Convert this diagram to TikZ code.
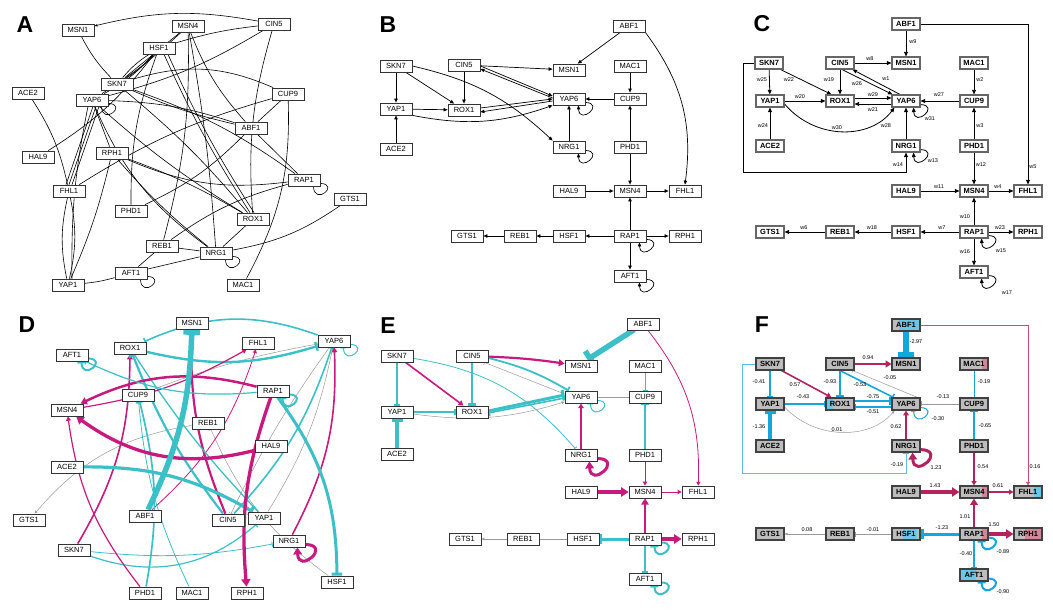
\documentclass[tikz,border=0pt]{standalone}
\usepackage{fontspec}
\setmainfont{Liberation Sans}
\usetikzlibrary{arrows.meta,calc}
\definecolor{magE}{HTML}{C8197F}
\definecolor{cyE}{HTML}{3CC0C8}
\definecolor{magF}{HTML}{B4225F}
\definecolor{blF}{HTML}{14A7DD}
\definecolor{fgray}{HTML}{BDBDBD}
\definecolor{fpink}{HTML}{CF8799}
\definecolor{fblue}{HTML}{6BC6E8}
\definecolor{gedge}{HTML}{9A9A9A}
\pgfdeclarelayer{bg}
\pgfsetlayers{bg,main}
\newcommand{\mkloop}[2]{\draw[#1] ($(#2.south east)+(0,-3)$) .. controls +(20,1) and +(1,20) .. ($(#2.south east)+(-7,0)$);}
\newcommand{\mkbigloop}[2]{\draw[#1] ($(#2.south east)+(0,-3)$) .. controls +(27,1) and +(1,27) .. ($(#2.south east)+(-8,0)$);}
\begin{document}
\begin{tikzpicture}[x=1pt,y=-1pt,
  font=\fontsize{7.5}{8}\selectfont,
  nb/.style={draw=black!80, line width=0.8pt, fill=white, minimum width=32pt, minimum height=12pt, inner sep=0pt},
  nc/.style={draw=black!60, line width=1.1pt, fill=white, minimum width=28pt, minimum height=12pt, inner sep=0pt, font=\bfseries\fontsize{7.5}{8}\selectfont},
  nf/.style={nc, fill=fgray, draw=black!75},
  pf/.style n args={3}{path picture={\fill[#1] ($(path picture bounding box.north west)!#2!(path picture bounding box.north east)$) rectangle ($(path picture bounding box.south west)!#3!(path picture bounding box.south east)$);}},
  lab/.style={font=\fontsize{5.5}{6}\selectfont, inner sep=0.5pt},
  plet/.style={font=\bfseries\fontsize{23}{23}\selectfont, inner sep=0pt},
  lnA/.style={line width=0.6pt, draw=black},
  arB/.style={line width=0.7pt, draw=black, -{Triangle[length=4pt,width=3.4pt]}},
  arC/.style={line width=0.8pt, draw=black, -{Triangle[length=4.5pt,width=3.8pt]}},
  aE/.style={draw=magE, line width=#1, -{Triangle[length=2.5pt 1.5, width=2.5pt 2]}},
  iE/.style={draw=cyE, line width=#1, -{Bar[width=3pt 2.5]}},
  aF/.style={draw=magF, line width=#1, -{Triangle[length=2.5pt 1.5, width=2.5pt 2]}},
  iF/.style={draw=blF, line width=#1, -{Bar[width=3pt 2.5]}},
  gA/.style={draw=gedge, line width=0.5pt, -{Triangle[length=3pt,width=2.6pt]}},
  gI/.style={draw=gedge, line width=0.5pt, -{Bar[width=5pt]}}
]
\useasboundingbox (0,0) rectangle (1053,612);

% ---------------- panel letters
\node[plet] (LA) at (25,25) {A};
\node[plet] (LB) at (388,25) {B};
\node[plet] (LC) at (762,24) {C};
\node[plet] (LD) at (27,325) {D};
\node[plet] (LE) at (388,326) {E};
\node[plet] (LF) at (762,325) {F};

% ---------------- panel A nodes
\node[nb] (aMSN1) at (78,30) {MSN1};
\node[nb] (aMSN4) at (188,26) {MSN4};
\node[nb] (aCIN5) at (274,24) {CIN5};
\node[nb] (aHSF1) at (159,48) {HSF1};
\node[nb] (aSKN7) at (117,84) {SKN7};
\node[nb] (aACE2) at (28,93) {ACE2};
\node[nb] (aYAP6) at (92,100) {YAP6};
\node[nb] (aCUP9) at (288,94) {CUP9};
\node[nb] (aABF1) at (251,128) {ABF1};
\node[nb] (aHAL9) at (38,157) {HAL9};
\node[nb] (aRPH1) at (112,153) {RPH1};
\node[nb] (aRAP1) at (304,180) {RAP1};
\node[nb] (aFHL1) at (69,191) {FHL1};
\node[nb] (aGTS1) at (350,199) {GTS1};
\node[nb] (aPHD1) at (131,211) {PHD1};
\node[nb] (aROX1) at (253,219) {ROX1};
\node[nb] (aREB1) at (162,246) {REB1};
\node[nb] (aNRG1) at (216,253) {NRG1};
\node[nb] (aAFT1) at (131,273) {AFT1};
\node[nb] (aYAP1) at (68,285) {YAP1};
\node[nb] (aMAC1) at (243,285) {MAC1};

\begin{pgfonlayer}{bg}
\draw[lnA,-{Stealth[length=3.5pt]}] (aCIN5) to[bend right=12] (aMSN1);
\draw[lnA] (aMSN1) to[bend right=8] (aSKN7);
\draw[lnA] (aMSN4) -- (aSKN7);
\draw[lnA] (aMSN4) to[bend left=5] (aYAP6);
\draw[lnA] (aHSF1) to[bend left=8] (aSKN7);
\draw[lnA] (aHSF1) to[bend right=8] (aSKN7);
\draw[lnA] (aHSF1) to[bend left=5] (aCIN5);
\draw[lnA] (aCIN5) to[bend left=8] (aYAP6);
\draw[lnA] (aHSF1) to[bend left=10] (aYAP6);
\draw[lnA] (aMSN4) to[bend left=8] (aREB1);
\draw[lnA] (aMSN4) to[bend right=10] (aABF1);
\draw[lnA] (aMSN4) to[bend left=3] (aNRG1);
\draw[lnA] ($(aHSF1.south)+(5,0)$) to[bend right=4] ($(aROX1.north)+(-3,0)$);
\draw[lnA] ($(aHSF1.south)+(9,0)$) to[bend right=4] ($(aROX1.north)+(1,0)$);
\draw[lnA] (aCIN5) to[bend right=10] (aROX1);
\draw[lnA] (aSKN7) to[bend left=20] (aCUP9);
\draw[lnA] (aSKN7) to[bend right=5] (aABF1);
\draw[lnA] (aSKN7) to[bend left=5] (aROX1);
\draw[lnA] (aSKN7) to[bend left=8] (aRAP1);
\draw[lnA] ($(aYAP6.south)+(1,0)$) -- ($(aFHL1.north)+(-3,0)$);
\draw[lnA] ($(aYAP6.south)+(4,0)$) -- ($(aFHL1.north)+(0,0)$);
\draw[lnA] ($(aYAP6.south)+(7,0)$) -- ($(aFHL1.north)+(3,0)$);
\draw[lnA] ($(aYAP6.south)+(-4,0)$) to[bend right=6] ($(aYAP1.north)+(4,0)$);
\draw[lnA] (aYAP6) -- (aRPH1);
\draw[lnA] (aYAP6) to[bend right=15] (aNRG1);
\draw[lnA] (aYAP6) to[bend right=5] (aROX1);
\draw[lnA] (aYAP6) to[bend left=8] (aABF1);
\draw[lnA] (aACE2) to[bend left=10] (aFHL1);
\draw[lnA] (aHAL9) to[bend right=10] (aHSF1);
\draw[lnA] (aFHL1) to[bend left=12] (aYAP1);
\draw[lnA] (aFHL1) to[bend right=12] (aYAP1);
\draw[lnA] (aFHL1) to[bend left=8] (aCUP9);
\draw[lnA] (aRPH1) to[bend left=5] (aYAP1);
\draw[lnA] (aRPH1) to[bend left=5] (aROX1);
\draw[lnA] (aRPH1) to[bend right=15] (aRAP1);
\draw[lnA] (aRPH1) to[bend right=5] (aNRG1);
\draw[lnA] (aPHD1) to[bend left=10] (aHSF1);
\draw[lnA] (aPHD1) to[bend right=10] (aABF1);
\draw[lnA] (aABF1) -- (aRAP1);
\draw[lnA] (aABF1) -- (aCUP9);
\draw[lnA] (aRAP1) to[bend right=10] (aREB1);
\draw[lnA] (aCUP9) to[bend left=15] (aMAC1);
\draw[lnA] (aGTS1) to[bend left=12] (aNRG1);
\draw[lnA] (aROX1) -- (aNRG1);
\draw[lnA] (aREB1) -- (aNRG1);
\draw[lnA] (aREB1) -- (aAFT1);
\draw[lnA] (aNRG1) -- (aAFT1);
\draw[lnA] (aYAP1) to[bend right=5] (aAFT1);
\mkloop{lnA}{aYAP6}
\mkloop{lnA}{aRAP1}
\mkloop{lnA}{aNRG1}
\mkloop{lnA}{aAFT1}
\end{pgfonlayer}

% ---------------- panel B nodes
\node[nb] (bABF1) at (629,26) {ABF1};
\node[nb] (bSKN7) at (396,66) {SKN7};
\node[nb] (bCIN5) at (464,65) {CIN5};
\node[nb] (bMSN1) at (569,70) {MSN1};
\node[nb] (bMAC1) at (630,66) {MAC1};
\node[nb] (bYAP1) at (396,109) {YAP1};
\node[nb] (bROX1) at (464,110) {ROX1};
\node[nb] (bYAP6) at (569,99) {YAP6};
\node[nb] (bCUP9) at (630,99) {CUP9};
\node[nb] (bACE2) at (396,149) {ACE2};
\node[nb] (bNRG1) at (569,147) {NRG1};
\node[nb] (bPHD1) at (630,147) {PHD1};
\node[nb] (bHAL9) at (569,191) {HAL9};
\node[nb] (bMSN4) at (630,191) {MSN4};
\node[nb] (bFHL1) at (685,191) {FHL1};
\node[nb] (bGTS1) at (467,236) {GTS1};
\node[nb] (bREB1) at (520,236) {REB1};
\node[nb] (bHSF1) at (569,236) {HSF1};
\node[nb] (bRAP1) at (630,236) {RAP1};
\node[nb] (bRPH1) at (685,236) {RPH1};
\node[nb] (bAFT1) at (630,276) {AFT1};

\begin{pgfonlayer}{bg}
\draw[arB] (bABF1) -- (bMSN1);
\draw[arB] (bABF1.south east) to[bend left=22] (bFHL1.north);
\draw[arB] (bSKN7) -- (bYAP1);
\draw[arB] (bSKN7) -- (bROX1);
\draw[arB] (bSKN7.east) to[bend left=15] (bNRG1.north west);
\draw[arB] (bCIN5) -- (bMSN1);
\draw[arB] (bCIN5) -- (bROX1);
\draw[arB] ($(bCIN5.east)+(0,1)$) -- ($(bYAP6.west)+(0,-3)$);
\draw[arB] ($(bYAP6.west)+(0,-1)$) -- ($(bCIN5.east)+(0,4)$);
\draw[arB] (bYAP1) -- (bROX1);
\draw[arB] ($(bROX1.east)+(0,-2)$) -- ($(bYAP6.west)+(0,0)$);
\draw[arB] ($(bYAP6.west)+(0,2)$) -- ($(bROX1.east)+(0,2)$);
\draw[arB] (bYAP1.south east) to[bend right=15] (bYAP6.south west);
\draw[arB] (bACE2) -- (bYAP1);
\draw[arB] (bMAC1) -- (bCUP9);
\draw[arB] (bCUP9) -- (bYAP6);
\draw[arB] (bPHD1) -- (bCUP9);
\draw[arB] (bPHD1) -- (bMSN4);
\draw[arB] (bNRG1) -- (bYAP6);
\draw[arB] (bHAL9) -- (bMSN4);
\draw[arB] (bMSN4) -- (bFHL1);
\draw[arB] (bRAP1) -- (bMSN4);
\draw[arB] (bRAP1) -- (bHSF1);
\draw[arB] (bHSF1) -- (bREB1);
\draw[arB] (bREB1) -- (bGTS1);
\draw[arB] (bRAP1) -- (bRPH1);
\draw[arB] (bRAP1) -- (bAFT1);
\mkloop{arB}{bYAP6}
\mkloop{arB}{bNRG1}
\mkloop{arB}{bRAP1}
\mkloop{arB}{bAFT1}
\end{pgfonlayer}

% ---------------- panel C nodes
\node[nc] (cABF1) at (906,24) {ABF1};
\node[nc] (cSKN7) at (769,63) {SKN7};
\node[nc] (cCIN5) at (840,63) {CIN5};
\node[nc] (cMSN1) at (906,63) {MSN1};
\node[nc] (cMAC1) at (974,63) {MAC1};
\node[nc] (cYAP1) at (770,101) {YAP1};
\node[nc] (cROX1) at (840,101) {ROX1};
\node[nc] (cYAP6) at (906,101) {YAP6};
\node[nc] (cCUP9) at (974,101) {CUP9};
\node[nc] (cACE2) at (770,146) {ACE2};
\node[nc] (cNRG1) at (906,146) {NRG1};
\node[nc] (cPHD1) at (974,146) {PHD1};
\node[nc] (cHAL9) at (906,191) {HAL9};
\node[nc] (cMSN4) at (974,191) {MSN4};
\node[nc] (cFHL1) at (1028,191) {FHL1};
\node[nc] (cGTS1) at (770,232) {GTS1};
\node[nc] (cREB1) at (840,232) {REB1};
\node[nc] (cHSF1) at (906,232) {HSF1};
\node[nc] (cRAP1) at (974,232) {RAP1};
\node[nc] (cRPH1) at (1028,232) {RPH1};
\node[nc] (cAFT1) at (974,272) {AFT1};

\begin{pgfonlayer}{bg}
\draw[arC] (cABF1) -- (cMSN1);
\draw[arC] (cABF1.east) -| (cFHL1.north);
\draw[arC] (cSKN7) -- (cYAP1);
\draw[arC] ($(cSKN7.south east)+(-3,0)$) -- ($(cROX1.north west)+(6,0)$);
\draw[arC] (cSKN7.west) -- ++(-11,0) |- ($(cNRG1.south)+(0,20)$) -- (cNRG1.south);
\draw[arC] (cCIN5) -- (cMSN1);
\draw[arC] (cCIN5) -- (cROX1);
\draw[arC] ($(cCIN5.south)+(2,0)$) -- ($(cYAP6.north west)+(1,0)$);
\draw[arC] ($(cYAP6.north)+(-6,0)$) -- ($(cCIN5.south east)+(-2,0)$);
\draw[arC] (cYAP1) -- (cROX1);
\draw[arC] ($(cROX1.east)+(0,-3)$) -- ($(cYAP6.west)+(0,-3)$);
\draw[arC] ($(cYAP6.west)+(0,3)$) -- ($(cROX1.east)+(0,3)$);
\draw[arC] ($(cYAP1.east)+(0,3)$) .. controls (815,140) and (870,140) .. ($(cYAP6.south west)+(3,0)$);
\draw[arC] (cACE2) -- (cYAP1);
\draw[arC] (cMAC1) -- (cCUP9);
\draw[arC] (cCUP9) -- (cYAP6);
\draw[arC] (cPHD1) -- (cCUP9);
\draw[arC] (cNRG1) -- (cYAP6);
\draw[arC] (cPHD1) -- (cMSN4);
\draw[arC] (cHAL9) -- (cMSN4);
\draw[arC] (cMSN4) -- (cFHL1);
\draw[arC] (cRAP1) -- (cMSN4);
\draw[arC] (cRAP1) -- (cHSF1);
\draw[arC] (cHSF1) -- (cREB1);
\draw[arC] (cREB1) -- (cGTS1);
\draw[arC] (cRAP1) -- (cRPH1);
\draw[arC] (cRAP1) -- (cAFT1);
\mkloop{arC}{cYAP6}
\mkloop{arC}{cNRG1}
\mkloop{arC}{cRAP1}
\mkloop{arC}{cAFT1}
\end{pgfonlayer}
\node[lab] (cw9) at (913,42) {w9};
\node[lab] (cw5) at (1033,167) {w5};
\node[lab] (cw25) at (762,80) {w25};
\node[lab] (cw22) at (789,80) {w22};
\node[lab] (cw14) at (898,165) {w14};
\node[lab] (cw8) at (870,59) {w8};
\node[lab] (cw19) at (829,80) {w19};
\node[lab] (cw26) at (857,84) {w26};
\node[lab] (cw1) at (886,79) {w1};
\node[lab] (cw20) at (800,97) {w20};
\node[lab] (cw29) at (873,95) {w29};
\node[lab] (cw21) at (873,110) {w21};
\node[lab] (cw30) at (837,128) {w30};
\node[lab] (cw24) at (763,126) {w24};
\node[lab] (cw2) at (980,80) {w2};
\node[lab] (cw27) at (939,95) {w27};
\node[lab] (cw3) at (980,126) {w3};
\node[lab] (cw28) at (886,126) {w28};
\node[lab] (cw31) at (930,119) {w31};
\node[lab] (cw13) at (933,161) {w13};
\node[lab] (cw12) at (981,165) {w12};
\node[lab] (cw11) at (939,187) {w11};
\node[lab] (cw4) at (998,187) {w4};
\node[lab] (cw10) at (965,217) {w10};
\node[lab] (cw7) at (942,228) {w7};
\node[lab] (cw18) at (872,228) {w18};
\node[lab] (cw6) at (804,228) {w6};
\node[lab] (cw23) at (1000,228) {w23};
\node[lab] (cw15) at (1001,251) {w15};
\node[lab] (cw16) at (965,252) {w16};
\node[lab] (cw17) at (1007,293) {w17};

% ---------------- panel D nodes
\node[nb] (dMSN1) at (192,323) {MSN1};
\node[nb] (dYAP6) at (334,341) {YAP6};
\node[nb] (dFHL1) at (258,343) {FHL1};
\node[nb] (dROX1) at (130,348) {ROX1};
\node[nb] (dAFT1) at (72,355) {AFT1};
\node[nb] (dCUP9) at (138,395) {CUP9};
\node[nb] (dRAP1) at (273,391) {RAP1};
\node[nb] (dMSN4) at (67,410) {MSN4};
\node[nb] (dREB1) at (208,423) {REB1};
\node[nb] (dHAL9) at (271,446) {HAL9};
\node[nb] (dACE2) at (67,467) {ACE2};
\node[nb] (dGTS1) at (29,520) {GTS1};
\node[nb] (dABF1) at (145,516) {ABF1};
\node[nb] (dCIN5) at (228,520) {CIN5};
\node[nb] (dYAP1) at (264,518) {YAP1};
\node[nb] (dNRG1) at (289,541) {NRG1};
\node[nb] (dSKN7) at (74,550) {SKN7};
\node[nb] (dHSF1) at (337,582) {HSF1};
\node[nb] (dPHD1) at (145,593) {PHD1};
\node[nb] (dMAC1) at (192,593) {MAC1};
\node[nb] (dRPH1) at (247,593) {RPH1};

\begin{pgfonlayer}{bg}
\draw[gI] (dYAP6) to[bend right=5] (dCIN5);
\draw[gA] (dYAP1) to[bend right=10] (dYAP6);
\draw[gI] (dCUP9) to[bend left=5] (dYAP6);
\draw[gI] (dHSF1) to[bend left=15] (dREB1);
\draw[gA] (dREB1) to[bend right=20] (dGTS1);
\draw[iE=0.8] (dSKN7) to[bend right=8] (dNRG1);
\draw[iE=1.2] (dSKN7) to[bend right=30] (dYAP1);
\draw[aE=0.8] (dABF1) to[bend right=15] (dFHL1);
\draw[aE=1.6] (dSKN7) to[bend right=15] (dROX1);
\draw[aE=2.2] (dCIN5) to[bend left=12] (dMSN1);
\draw[iE=2.2] (dCIN5) to[bend left=8] (dROX1);
\draw[iE=1.6] (dCIN5) to[bend right=12] (dYAP6);
\draw[iE=1.3] (dYAP1) to[bend left=5] (dROX1);
\draw[iE=2.4] (dROX1) to[bend right=15] (dYAP6);
\draw[iE=1.6] (dYAP6) to[bend right=22] (dROX1);
\draw[iE=3.2] (dACE2) to[bend left=15] (dYAP1);
\draw[iE=0.8] (dMAC1) to[bend left=10] (dCUP9);
\draw[iE=1.7] (dPHD1) to[bend right=12] (dCUP9);
\draw[aE=1.2] (dPHD1) to[bend left=15] (dMSN4);
\draw[aE=1.6] (dNRG1) to[bend right=15] (dYAP6);
\draw[aE=3.3] (dHAL9) to[bend left=25] (dMSN4);
\draw[aE=1.2] (dMSN4) to[bend right=10] (dFHL1);
\draw[aE=2.5] (dRAP1) to[bend right=20] (dMSN4);
\draw[iE=3.0] (dRAP1) to[bend left=18] (dHSF1);
\draw[aE=3.3] (dRAP1) to[bend right=12] (dRPH1);
\draw[iE=1.2] (dRAP1) to[bend left=15] (dAFT1);
\draw[iE=5.5] (dABF1) to[bend right=12] (dMSN1);
\mkbigloop{aE=3.0}{dNRG1}
\mkloop{iE=1.0}{dYAP6}
\mkloop{iE=2.0}{dRAP1}
\mkloop{iE=2.0}{dAFT1}
\end{pgfonlayer}

% ---------------- panel E nodes
\node[nb] (eABF1) at (643,324) {ABF1};
\node[nb] (eSKN7) at (397,356) {SKN7};
\node[nb] (eCIN5) at (472,356) {CIN5};
\node[nb] (eMSN1) at (581,366) {MSN1};
\node[nb] (eMAC1) at (645,366) {MAC1};
\node[nb] (eYAP6) at (581,397) {YAP6};
\node[nb] (eCUP9) at (645,397) {CUP9};
\node[nb] (eYAP1) at (397,412) {YAP1};
\node[nb] (eROX1) at (472,412) {ROX1};
\node[nb] (eACE2) at (397,454) {ACE2};
\node[nb] (eNRG1) at (581,455) {NRG1};
\node[nb] (ePHD1) at (645,455) {PHD1};
\node[nb] (eHAL9) at (581,492) {HAL9};
\node[nb] (eMSN4) at (645,492) {MSN4};
\node[nb] (eFHL1) at (698,492) {FHL1};
\node[nb] (eGTS1) at (465,539) {GTS1};
\node[nb] (eREB1) at (523,539) {REB1};
\node[nb] (eHSF1) at (583,539) {HSF1};
\node[nb] (eRAP1) at (645,539) {RAP1};
\node[nb] (eRPH1) at (698,539) {RPH1};
\node[nb] (eAFT1) at (645,579) {AFT1};

\begin{pgfonlayer}{bg}
\draw[gI] ($(eYAP6.west)+(0,-3)$) -- ($(eCIN5.south east)+(-4,0)$);
\draw[gA] (eYAP1) to[bend right=12] (eYAP6);
\draw[gI] (eCUP9) -- (eYAP6);
\draw[gI] (eHSF1) -- (eREB1);
\draw[gA] (eREB1) -- (eGTS1);
\draw[iE=5.5, line cap=round] (eABF1) -- ($(eMSN1.north east)+(-10,0)$);
\draw[aE=0.8] (eABF1) to[bend left=20] (eFHL1);
\draw[iE=1.2] (eSKN7) -- (eYAP1);
\draw[aE=1.6] (eSKN7) -- (eROX1);
\draw[iE=0.8] (eSKN7) to[bend left=20] (eNRG1);
\draw[aE=2.2] (eCIN5) to[bend left=3] (eMSN1);
\draw[iE=2.2] (eCIN5) -- (eROX1);
\draw[iE=1.8] ($(eCIN5.east)+(0,2)$) to[bend left=8] ($(eYAP6.north west)+(4,0)$);
\draw[iE=1.3] (eYAP1) -- (eROX1);
\draw[iE=3.0] ($(eROX1.east)+(0,-1)$) -- ($(eYAP6.west)+(0,-2)$);
\draw[iE=1.6] ($(eYAP6.west)+(0,1)$) -- ($(eROX1.east)+(0,1)$);
\draw[iE=3.2] (eACE2) -- (eYAP1);
\draw[iE=0.8] (eMAC1) -- (eCUP9);
\draw[iE=1.7] (ePHD1) -- (eCUP9);
\draw[aE=1.5] (eNRG1) -- (eYAP6);
\draw[aE=1.0] (ePHD1) -- (eMSN4);
\draw[aE=3.3] (eHAL9) -- (eMSN4);
\draw[aE=1.0] (eMSN4) -- (eFHL1);
\draw[aE=2.5] (eRAP1) -- (eMSN4);
\draw[iE=3.0] (eRAP1) -- (eHSF1);
\draw[aE=3.3] (eRAP1) -- (eRPH1);
\draw[iE=1.2] (eRAP1) -- (eAFT1);
\mkloop{iE=1.0}{eYAP6}
\mkbigloop{aE=3.0}{eNRG1}
\mkloop{iE=2.0}{eRAP1}
\mkloop{iE=2.0}{eAFT1}
\end{pgfonlayer}

% ---------------- panel F nodes
\node[nf, pf={fblue}{0.25}{0.95}] (fABF1) at (906,325) {ABF1};
\node[nf] (fSKN7) at (770,364) {SKN7};
\node[nf] (fCIN5) at (840,364) {CIN5};
\node[nf] (fMSN1) at (906,364) {MSN1};
\node[nf, pf={fpink}{0.78}{1}] (fMAC1) at (974,364) {MAC1};
\node[nf] (fYAP1) at (770,404) {YAP1};
\node[nf, pf={fblue}{0}{0.25}] (fROX1) at (840,404) {ROX1};
\node[nf] (fYAP6) at (906,404) {YAP6};
\node[nf] (fCUP9) at (974,404) {CUP9};
\node[nf] (fACE2) at (770,446) {ACE2};
\node[nf] (fNRG1) at (906,446) {NRG1};
\node[nf] (fPHD1) at (974,446) {PHD1};
\node[nf] (fHAL9) at (906,492) {HAL9};
\node[nf, pf={fpink}{0.78}{1}] (fMSN4) at (974,492) {MSN4};
\node[nf, pf={fblue}{0.72}{1}] (fFHL1) at (1028,492) {FHL1};
\node[nf] (fGTS1) at (770,534) {GTS1};
\node[nf] (fREB1) at (840,534) {REB1};
\node[nf, pf={fblue}{0.4}{0.88}] (fHSF1) at (906,534) {HSF1};
\node[nf, pf={fpink}{0.8}{1}] (fRAP1) at (974,534) {RAP1};
\node[nf, pf={fpink}{0.4}{1}] (fRPH1) at (1028,534) {RPH1};
\node[nf, pf={fblue}{0}{0.58}] (fAFT1) at (974,575) {AFT1};

\begin{pgfonlayer}{bg}
\draw[gI] ($(fYAP6.north east)+(-3,0)$) -- ($(fCIN5.south east)+(-2,0)$);
\draw[gA] ($(fYAP1.east)+(0,3)$) .. controls (815,440) and (870,440) .. ($(fYAP6.south west)+(3,0)$);
\draw[gI] (fCUP9) -- (fYAP6);
\draw[gI] (fHSF1) -- (fREB1);
\draw[gA] (fREB1) -- (fGTS1);
\draw[iF=5.5, line cap=round] (fABF1) -- (fMSN1);
\draw[aF=0.8, draw=magF!80] (fABF1.east) -| (fFHL1.north);
\draw[iF=1.2] (fSKN7) -- (fYAP1);
\draw[aF=1.6] ($(fSKN7.south east)+(-3,0)$) -- ($(fROX1.north west)+(6,0)$);
\draw[iF=0.9, draw=blF!70] (fSKN7.west) -- ++(-13,0) |- ($(fNRG1.south)+(0,21)$) -- (fNRG1.south);
\draw[aF=2.2] (fCIN5) -- (fMSN1);
\draw[iF=2.2] (fCIN5) -- (fROX1);
\draw[iF=1.6] (fCIN5.south) -- ($(fYAP6.north west)+(2,0)$);
\draw[iF=1.3] (fYAP1) -- (fROX1);
\draw[iF=2.0] ($(fROX1.east)+(0,-3)$) -- ($(fYAP6.west)+(0,-3)$);
\draw[iF=1.5] ($(fYAP6.west)+(0,3)$) -- ($(fROX1.east)+(0,3)$);
\draw[iF=3.2] (fACE2) -- (fYAP1);
\draw[iF=0.8] (fMAC1) -- (fCUP9);
\draw[iF=1.7] (fPHD1) -- (fCUP9);
\draw[aF=1.6] (fNRG1) -- (fYAP6);
\draw[aF=1.3] (fPHD1) -- (fMSN4);
\draw[aF=3.3] (fHAL9) -- (fMSN4);
\draw[aF=1.2] (fMSN4) -- (fFHL1);
\draw[aF=2.5] (fRAP1) -- (fMSN4);
\draw[iF=3.0] (fRAP1) -- (fHSF1);
\draw[aF=3.3] (fRAP1) -- (fRPH1);
\draw[iF=1.2] (fRAP1) -- (fAFT1);
\mkloop{iF=1.0}{fYAP6}
\mkbigloop{aF=3.0}{fNRG1}
\mkloop{iF=2.0}{fRAP1}
\mkloop{iF=2.0}{fAFT1}
\end{pgfonlayer}
\node[lab] (fl1) at (916,342) {-2.97};
\node[lab] (fl2) at (868,358) {0.94};
\node[lab] (fl3) at (890,378) {-0.05};
\node[lab] (fl4) at (759,382) {-0.41};
\node[lab] (fl5) at (795,385) {0.57};
\node[lab] (fl6) at (830,382) {-0.93};
\node[lab] (fl7) at (860,385) {-0.53};
\node[lab] (fl8) at (984,382) {-0.19};
\node[lab] (fl9) at (803,397) {-0.43};
\node[lab] (fl10) at (873,397) {-0.75};
\node[lab] (fl11) at (943,397) {-0.13};
\node[lab] (fl12) at (873,412) {-0.51};
\node[lab] (fl13) at (938,419) {-0.30};
\node[lab] (fl14) at (759,427) {-1.36};
\node[lab] (fl15) at (837,430) {0.01};
\node[lab] (fl16) at (896,427) {0.62};
\node[lab] (fl17) at (985,426) {-0.65};
\node[lab] (fl18) at (897,465) {-0.19};
\node[lab] (fl19) at (936,468) {1.23};
\node[lab] (fl20) at (983,467) {0.54};
\node[lab] (fl21) at (1035,467) {0.16};
\node[lab] (fl22) at (935,486) {1.43};
\node[lab] (fl23) at (998,486) {0.61};
\node[lab] (fl24) at (965,517) {1.01};
\node[lab] (fl25) at (807,530) {0.08};
\node[lab] (fl26) at (873,530) {-0.01};
\node[lab] (fl27) at (942,528) {-1.23};
\node[lab] (fl28) at (994,525) {1.50};
\node[lab] (fl29) at (1003,552) {-0.89};
\node[lab] (fl30) at (966,554) {-0.40};
\node[lab] (fl31) at (1003,592) {-0.90};
\end{tikzpicture}
\end{document}
